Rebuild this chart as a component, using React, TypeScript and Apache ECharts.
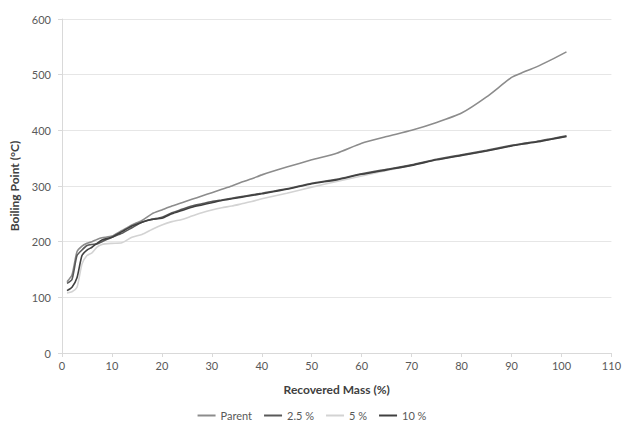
import React, { useEffect, useRef } from "react";
import * as echarts from "echarts";

const recoveredMass = [1, 2, 3, 4, 5, 6, 7, 8, 10, 12, 14, 16, 18, 20, 22, 24, 26, 28, 30, 32, 34, 36, 38, 40, 45, 50, 55, 60, 65, 70, 75, 80, 85, 90, 92, 95, 98, 101];

const parentBP = [128, 140, 182, 192, 197, 200, 204, 207, 210, 220, 230, 238, 250, 257, 264, 270, 276, 282, 288, 294, 300, 307, 313, 320, 334, 347, 359, 377, 389, 400, 414, 431, 460, 495, 503, 514, 527, 541];
const bp25 = [125, 132, 175, 185, 193, 195, 196, 200, 208, 215, 225, 235, 240, 244, 252, 258, 264, 268, 272, 275, 278, 281, 284, 287, 295, 305, 312, 322, 330, 338, 348, 356, 364, 373, 376, 380, 385, 390];
const bp5 = [108, 110, 118, 160, 175, 180, 190, 195, 197, 198, 208, 213, 222, 230, 236, 240, 246, 252, 257, 261, 264, 268, 272, 277, 287, 298, 308, 318, 328, 337, 347, 355, 363, 372, 375, 379, 384, 389];
const bp10 = [112, 118, 135, 175, 185, 190, 197, 203, 208, 218, 228, 235, 240, 242, 250, 256, 262, 266, 270, 274, 277, 280, 283, 286, 294, 304, 311, 321, 329, 337, 347, 355, 363, 372, 375, 379, 384, 389];

const seriesNames = ["Parent", "2.5 %", "5 %", "10 %"];
const seriesColors = ["#8c8c8c", "#595959", "#d3d3d3", "#404040"];
const seriesValues = [parentBP, bp25, bp5, bp10];

const xTicks = { min: 0, max: 110, interval: 10 };
const yTicks = { min: 0, max: 600, interval: 100 };

export default function App() {
  const ref = useRef<HTMLDivElement>(null);
  useEffect(() => {
    if (!ref.current) return;
    const chart = echarts.init(ref.current, undefined, { renderer: "svg" });
    const font = "Lato, 'Open Sans', sans-serif";
    chart.setOption({
      animation: false,
      backgroundColor: "#ffffff",
      textStyle: { fontFamily: font },
      grid: { left: 59, right: 11, top: 19, bottom: 68 },
      legend: {
        bottom: 0,
        left: "center",
        padding: [0, 5, 0, 5],
        icon: "rect",
        itemWidth: 18,
        itemHeight: 2,
        itemGap: 12,
        textStyle: { fontSize: 11, color: "#595959", fontFamily: font },
        data: seriesNames,
      },
      xAxis: {
        type: "value",
        min: xTicks.min,
        max: xTicks.max,
        interval: xTicks.interval,
        name: "Recovered Mass (%)",
        nameLocation: "middle",
        nameGap: 30,
        nameTextStyle: { fontSize: 12, fontWeight: "bold", color: "#404040", fontFamily: font },
        axisLine: { show: true, lineStyle: { color: "#d9d9d9" } },
        axisTick: { show: true, length: 4, lineStyle: { color: "#d9d9d9" } },
        axisLabel: { fontSize: 11, color: "#595959", margin: 7 },
        splitLine: { show: false },
      },
      yAxis: {
        type: "value",
        min: yTicks.min,
        max: yTicks.max,
        interval: yTicks.interval,
        name: "Boiling Point (°C)",
        nameLocation: "middle",
        nameGap: 42,
        nameRotate: 90,
        nameTextStyle: { fontSize: 12, fontWeight: "bold", color: "#404040", fontFamily: font },
        axisLine: { show: true, lineStyle: { color: "#d9d9d9" } },
        axisTick: { show: true, length: 4, lineStyle: { color: "#d9d9d9" } },
        axisLabel: { fontSize: 11, color: "#595959", margin: 11 },
        splitLine: { show: true, lineStyle: { color: "#e6e6e6" } },
      },
      series: seriesNames.map((name, i) => ({
        name,
        type: "line",
        showSymbol: false,
        symbol: "none",
        smooth: 0.2,
        lineStyle: { color: seriesColors[i], width: 1.6 },
        itemStyle: { color: seriesColors[i] },
        data: recoveredMass.map((x, j) => [x, seriesValues[i][j]]),
        z: i === 2 ? 1 : 2 + i,
      })),
    });
    return () => chart.dispose();
  }, []);
  return (
    <div
      ref={ref}
      style={{ position: "fixed", left: 0, top: 0, width: 624, height: 421 }}
    />
  );
}
